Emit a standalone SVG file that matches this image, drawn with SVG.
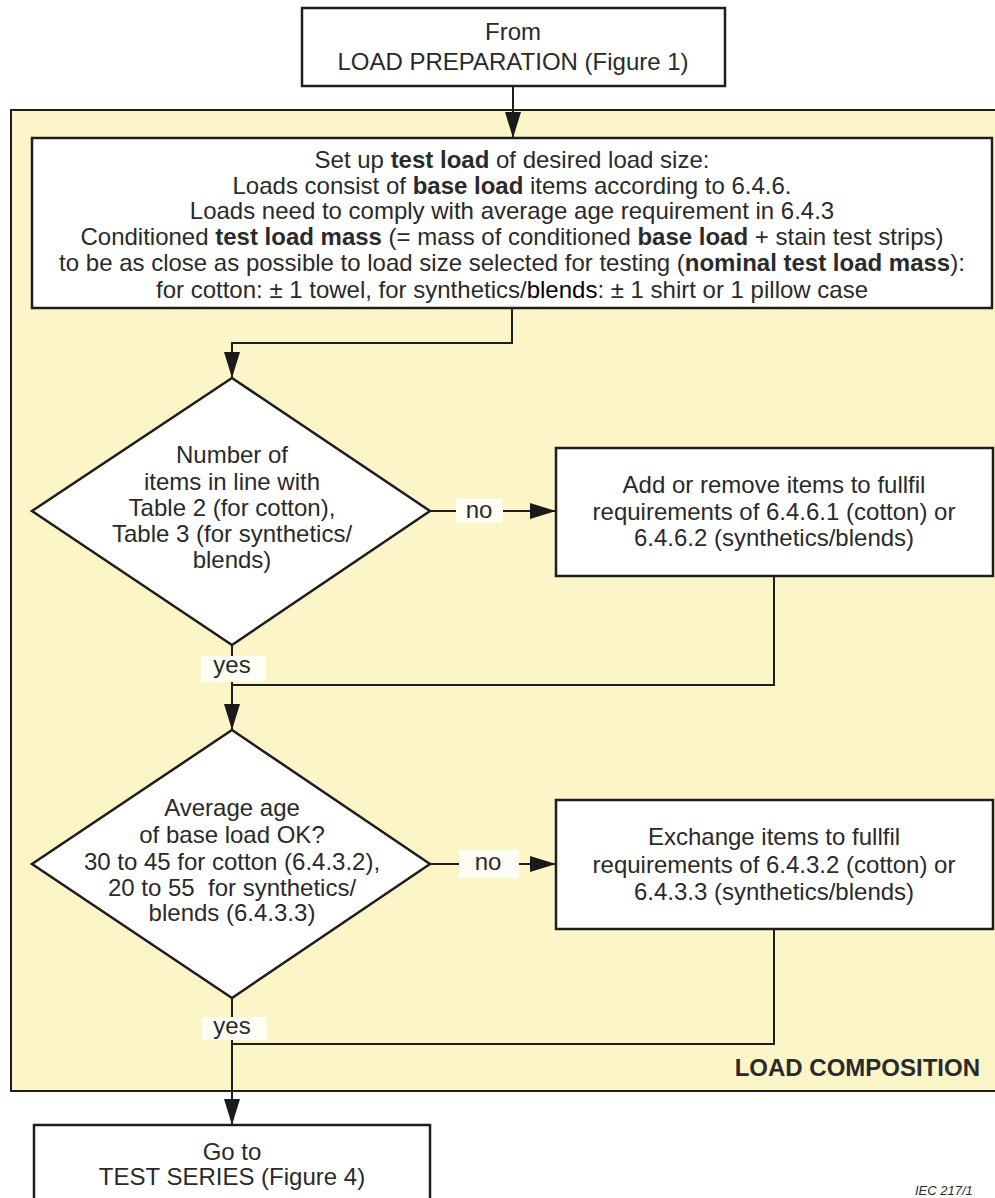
<svg xmlns="http://www.w3.org/2000/svg" width="995" height="1198" viewBox="0 0 995 1198">
<defs>
<marker id="arr" markerUnits="userSpaceOnUse" markerWidth="26" markerHeight="16" refX="26" refY="8" orient="auto">
<path d="M0,0 L26,8 L0,16 z" fill="#1a1a1a"/>
</marker>
<style>
.t{font-family:"Liberation Sans",Arial,sans-serif;font-size:24px;fill:#2a2a2a;text-anchor:middle}
.b{font-weight:bold}
.box{fill:#ffffff;stroke:#1e1e1e;stroke-width:2.5}
.ln{fill:none;stroke:#1e1e1e;stroke-width:2}
.lbl{fill:#fffef4}
</style>
</defs>
<rect x="0" y="0" width="995" height="1198" fill="#ffffff"/>
<rect id="load-composition" x="11" y="110" width="992" height="981" fill="#fbf5c8" stroke="#1e1e1e" stroke-width="2"/>
<text class="t b" x="980" y="1076" style="text-anchor:end;font-size:24px">LOAD COMPOSITION</text>

<g id="connectors">
<line class="ln" x1="513" y1="86" x2="513" y2="138" marker-end="url(#arr)"/>
<polyline class="ln" points="512,308 512,343 232,343 232,378" marker-end="url(#arr)"/>
<line class="ln" x1="430" y1="511" x2="556" y2="511" marker-end="url(#arr)"/>
<polyline class="ln" points="774,576 774,685 232,685"/>
<polyline class="ln" points="232,645 232,685 232,730" marker-end="url(#arr)"/>
<line class="ln" x1="430" y1="864" x2="556" y2="864" marker-end="url(#arr)"/>
<polyline class="ln" points="774,929 774,1044 232,1044"/>
<polyline class="ln" points="232,998 232,1044 232,1125" marker-end="url(#arr)"/>
<rect class="lbl" x="456" y="499" width="47" height="24"/>
<text class="t" x="479" y="518">no</text>
<rect class="lbl" x="201" y="656" width="65" height="26"/>
<text class="t" x="232" y="673">yes</text>
<rect class="lbl" x="459" y="850" width="60" height="28"/>
<text class="t" x="488" y="870">no</text>
<rect class="lbl" x="202" y="1017" width="65" height="23"/>
<text class="t" x="232" y="1034">yes</text>
</g>

<g id="from-load-preparation">
<rect class="box" x="302" y="8" width="423" height="78"/>
<text class="t" x="513" y="40">From</text>
<text class="t" x="513" y="70">LOAD PREPARATION (Figure 1)</text>
</g>

<g id="set-up-test-load">
<rect class="box" x="32" y="138" width="960" height="170"/>
<text class="t" x="512" y="168">Set up <tspan class="b">test load</tspan> of desired load size:</text>
<text class="t" x="512" y="194">Loads consist of <tspan class="b">base load</tspan> items according to 6.4.6.</text>
<text class="t" x="512" y="219">Loads need to comply with average age requirement in 6.4.3</text>
<text class="t" x="512" y="245">Conditioned <tspan class="b">test load mass</tspan> (= mass of conditioned <tspan class="b">base load</tspan> + stain test strips)</text>
<text class="t" x="512" y="271">to be as close as possible to load size selected for testing (<tspan class="b">nominal test load mass</tspan>):</text>
<text class="t" x="512" y="298">for cotton: ± 1 towel, for synthetics/<tspan fill="#000000">blends</tspan>: ± 1 shirt or 1 pillow case</text>
</g>

<g id="number-of-items">
<polygon class="box" points="232,378 430,511 232,645 32,511"/>
<text class="t" x="232" y="463">Number of</text>
<text class="t" x="232" y="490">items in line with</text>
<text class="t" x="232" y="516">Table 2 (for cotton),</text>
<text class="t" x="232" y="542">Table 3 (for synthetics/</text>
<text class="t" x="232" y="568">blends)</text>
</g>

<g id="add-or-remove">
<rect class="box" x="556" y="448" width="437" height="128"/>
<text class="t" x="774" y="493">Add or remove items to fullfil</text>
<text class="t" x="774" y="520">requirements of 6.4.6.1 (cotton) or</text>
<text class="t" x="774" y="546">6.4.6.2 (synthetics/blends)</text>
</g>

<g id="average-age">
<polygon class="box" points="232,730 430,864 232,998 32,864"/>
<text class="t" x="232" y="816">Average age</text>
<text class="t" x="232" y="843">of base load OK?</text>
<text class="t" x="232" y="870">30 to 45 for cotton (6.4.3.2),</text>
<text class="t" x="232" y="896" xml:space="preserve">20 to 55  for synthetics/</text>
<text class="t" x="232" y="921">blends (6.4.3.3)</text>
</g>

<g id="exchange-items">
<rect class="box" x="556" y="800" width="437" height="129"/>
<text class="t" x="774" y="845">Exchange items to fullfil</text>
<text class="t" x="774" y="873">requirements of 6.4.3.2 (cotton) or</text>
<text class="t" x="774" y="900">6.4.3.3 (synthetics/blends)</text>
</g>

<g id="go-to-test-series">
<rect class="box" x="34" y="1125" width="396" height="100"/>
<text class="t" x="232" y="1160">Go to</text>
<text class="t" x="232" y="1185">TEST SERIES (Figure 4)</text>
</g>

<text x="915" y="1195" style="font-family:'Liberation Sans',Arial,sans-serif;font-size:13px;font-style:italic;fill:#2a2a2a">IEC  217/1</text>
</svg>
